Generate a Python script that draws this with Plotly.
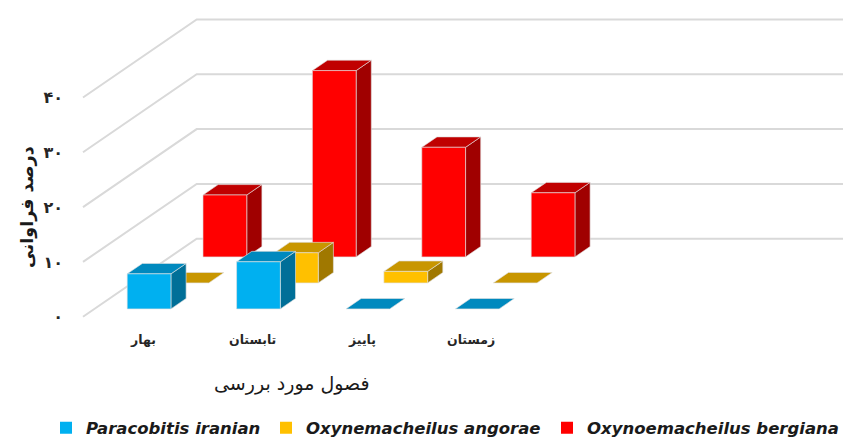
import plotly.graph_objects as go

# ---------------- data ----------------
seasons = ["بهار", "تابستان", "پاییز", "زمستان"]
series_names = ["Paracobitis iranian", "Oxynemacheilus angorae", "Oxynoemacheilus bergiana"]
paracobitis_iranian = [6.4, 8.6, 0, 0]
oxynemacheilus_angorae = [0, 5.5, 2.1, 0]
oxynoemacheilus_bergiana = [11.3, 34.0, 20.0, 11.7]
y_tick_values = [0, 10, 20, 30, 40]
y_tick_labels = ["۰", "۱۰", "۲۰", "۳۰", "۴۰"]
x_axis_title = "فصول مورد بررسی"
y_axis_title = "درصد فراوانی"

series_values = [paracobitis_iranian, oxynemacheilus_angorae, oxynoemacheilus_bergiana]

# ---------------- styling / geometry ----------------
front_colors = ["#00B0F0", "#FFC000", "#FF0000"]
top_colors = ["#0089BE", "#C89600", "#C00000"]
side_colors = ["#006F98", "#A07800", "#A00000"]
legend_widths = [175, 236, 255]

PAGE_OFFSET = 8           # default body margin of the html page
W, H = 851 - PAGE_OFFSET, 438 - PAGE_OFFSET
LEFT = 83 - PAGE_OFFSET   # px, left edge of floor front
ZERO_Y = 316.7 - PAGE_OFFSET  # px, value 0 at front
PX_PER_CAT = 109.4
PX_PER_VAL = 5.48
DEPTH_PX = (113.7, 78.0)  # oblique depth vector in px (right, up)
DX = DEPTH_PX[0] / PX_PER_CAT
DY = DEPTH_PX[1] / PX_PER_VAL
GAP = 0.3                 # category gap fraction on each side
ROW_GAP = 0.3

x_min = -LEFT / PX_PER_CAT
x_max = (W - LEFT) / PX_PER_CAT
y_max = ZERO_Y / PX_PER_VAL
y_min = (ZERO_Y - H) / PX_PER_VAL
n_rows = len(series_values)


def P(x, v, d):
    return x + d * DX, v + d * DY


fig = go.Figure()

# gridlines (side wall slant + back wall horizontal)
gx, gy = [], []
for v in y_tick_values:
    a = P(0, v, 0)
    b = P(0, v, 1)
    gx += [a[0], b[0], x_max, None]
    gy += [a[1], b[1], b[1], None]
fig.add_trace(go.Scatter(x=gx, y=gy, mode="lines", line=dict(color="#D9D9D9", width=2),
                         hoverinfo="skip", showlegend=False))

edge = dict(color="rgba(225,225,225,0.9)", width=0.7)

# bars, back row first
for j in reversed(range(n_rows)):
    vals = series_values[j]
    d0 = (j + ROW_GAP) / n_rows
    d1 = (j + 1 - ROW_GAP) / n_rows
    faces = {"side": ([], []), "top": ([], []), "front": ([], [])}
    for i, v in enumerate(vals):
        x0 = i + GAP
        x1 = i + 1 - GAP
        top = [P(x0, v, d0), P(x1, v, d0), P(x1, v, d1), P(x0, v, d1)]
        side = [P(x1, 0, d0), P(x1, v, d0), P(x1, v, d1), P(x1, 0, d1)]
        front = [P(x0, 0, d0), P(x1, 0, d0), P(x1, v, d0), P(x0, v, d0)]
        for name, poly in (("top", top), ("side", side), ("front", front)):
            if name != "top" and v == 0:
                continue
            xs, ys = faces[name]
            xs += [p[0] for p in poly] + [poly[0][0], None]
            ys += [p[1] for p in poly] + [poly[0][1], None]
    for name, col in (("side", side_colors[j]), ("top", top_colors[j]), ("front", front_colors[j])):
        xs, ys = faces[name]
        if not xs:
            continue
        fig.add_trace(go.Scatter(x=xs, y=ys, mode="lines", fill="toself", fillcolor=col,
                                 line=edge, hoverinfo="skip", showlegend=False))

# legend entries
for j, name in enumerate(series_names):
    fig.add_trace(go.Scatter(x=[None], y=[None], mode="markers", name=name,
                             legendwidth=legend_widths[j],
                             marker=dict(symbol="square", size=12, color=front_colors[j])))

# category labels
for i, s in enumerate(seasons):
    fig.add_annotation(x=i + 0.5, y=0, xref="x", yref="y", text="<b>%s</b>" % s, showarrow=False,
                       xshift=5, yshift=-23, font=dict(family="DejaVu Sans", size=12.5, color="#262626"))

# axis titles
fig.add_annotation(x=1.91, y=0, xref="x", yref="y", text=x_axis_title, showarrow=False,
                   yshift=-67, font=dict(family="DejaVu Sans", size=19, color="#1a1a1a"))
fig.add_annotation(x=(27 - PAGE_OFFSET) / W, y=1 - (207 - PAGE_OFFSET) / H, xref="paper", yref="paper",
                   xanchor="center", yanchor="middle",
                   text="<b>%s</b>" % y_axis_title, textangle=-90, showarrow=False,
                   font=dict(family="DejaVu Sans", size=17.5, color="#1a1a1a"))

fig.update_layout(
    width=W, height=H,
    margin=dict(l=0, r=0, t=0, b=0, autoexpand=False),
    plot_bgcolor="white", paper_bgcolor="white",
    xaxis=dict(range=[x_min, x_max], visible=False, fixedrange=True),
    yaxis=dict(range=[y_min, y_max], tickvals=y_tick_values, ticktext=y_tick_labels,
               anchor="free", position=LEFT / W,
               showgrid=False, zeroline=False, showline=False, ticks="",
               ticklabelstandoff=20,
               tickfont=dict(family="DejaVu Sans", size=16, color="#262626", weight="bold")),
    legend=dict(orientation="h", x=(46 - PAGE_OFFSET) / W, y=10 / H,
                xanchor="left", yanchor="middle", itemwidth=30,
                font=dict(family="DejaVu Sans", size=16.5, color="#1a1a1a",
                          weight="bold", style="italic")),
    showlegend=True,
)

fig.write_html("out.html")
